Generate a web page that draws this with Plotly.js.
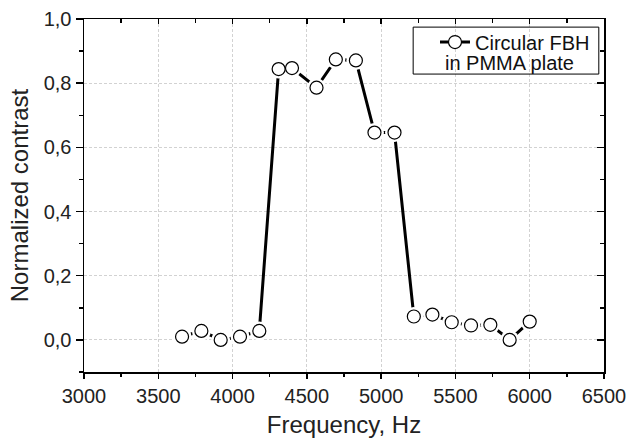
<!DOCTYPE html>
<html>
<head>
<meta charset="utf-8">
<script src="https://cdn.plot.ly/plotly-3.0.1.min.js"></script>
<style>html,body{margin:0;padding:0;background:#fff;}#chart{width:626px;height:438px;}</style>
</head>
<body>
<div id="chart"></div>
<script>
const frequencyHz = [3660, 3790, 3920, 4050, 4180, 4310, 4400, 4565, 4695, 4830, 4955, 5090, 5220, 5345, 5475, 5605, 5735, 5865, 6000];
const normalizedContrast = [0.010, 0.028, 0.000, 0.010, 0.028, 0.844, 0.847, 0.786, 0.874, 0.871, 0.646, 0.646, 0.073, 0.079, 0.055, 0.045, 0.047, 0.000, 0.057];
const seriesName = 'Circular FBH';
const seriesName2 = 'in PMMA plate';
const xTitle = 'Frequency, Hz';
const yTitle = 'Normalized contrast';

const FONT = 'Liberation Sans, Arial, sans-serif';

const traces = [
  {
    x: frequencyHz, y: normalizedContrast, type: 'scatter', mode: 'lines+markers',
    name: seriesName,
    line: {color: '#000', width: 3},
    marker: {symbol: 'circle', size: 13, color: '#fff', line: {color: '#000', width: 1.2}},
    showlegend: true, hoverinfo: 'skip'
  },
  {
    x: frequencyHz, y: normalizedContrast, type: 'scatter', mode: 'markers',
    marker: {symbol: 'circle', size: 19, color: '#fff', line: {width: 0}},
    showlegend: false, hoverinfo: 'skip'
  },
  {
    x: frequencyHz, y: normalizedContrast, type: 'scatter', mode: 'markers',
    marker: {symbol: 'circle', size: 13, color: '#fff', line: {color: '#000', width: 1.2}},
    showlegend: false, hoverinfo: 'skip'
  },
  {x: [3000], y: [0], xaxis: 'x2', yaxis: 'y2', mode: 'markers', marker: {opacity: 0}, showlegend: false, hoverinfo: 'skip'}
];

const layout = {
  width: 626, height: 438,
  margin: {l: 84, r: 22, t: 19, b: 66},
  paper_bgcolor: '#fff', plot_bgcolor: '#fff',
  separators: ',.',
  font: {family: FONT, color: '#222', size: 20},
  showlegend: true,
  legend: {
    x: 0.675, y: 0.99, xanchor: 'left', yanchor: 'top',
    bgcolor: 'rgba(0,0,0,0)', borderwidth: 0,
    font: {family: FONT, size: 20, color: '#111'}
  },
  xaxis: {
    range: [3000, 6500], dtick: 500, tick0: 3000,
    showline: true, linecolor: '#000', linewidth: 1.5,
    ticks: 'outside', ticklen: 5, tickwidth: 1.5, tickcolor: '#000',
    minor: {ticks: 'outside', ticklen: 3, tickwidth: 1.5, tickcolor: '#000', dtick: 250, showgrid: false},
    showgrid: true, gridcolor: '#d2d2d2', gridwidth: 1, griddash: '3px,2px',
    zeroline: false, ticklabeloverflow: 'allow',
    tickfont: {family: FONT, size: 20, color: '#222'},
    title: {text: xTitle, font: {family: FONT, size: 24, color: '#222'}, standoff: 10}
  },
  yaxis: {
    range: [-0.1, 1.0], dtick: 0.2, tick0: 0, tickformat: '.1f',
    showline: true, linecolor: '#000', linewidth: 1.5,
    ticks: 'outside', ticklen: 7, tickwidth: 1.5, tickcolor: '#000',
    minor: {ticks: 'outside', ticklen: 4, tickwidth: 1.5, tickcolor: '#000', dtick: 0.1, showgrid: false},
    showgrid: true, gridcolor: '#d2d2d2', gridwidth: 1, griddash: '3px,2px',
    zeroline: false,
    tickfont: {family: FONT, size: 20, color: '#222'},
    title: {text: yTitle, font: {family: FONT, size: 24, color: '#222'}, standoff: 8}
  },
  xaxis2: {
    overlaying: 'x', side: 'top', anchor: 'y', range: [3000, 6500], dtick: 500, tick0: 3000,
    showline: true, linecolor: '#000', linewidth: 1.5,
    ticks: 'inside', ticklen: 5, tickwidth: 1.5, tickcolor: '#000',
    minor: {ticks: 'inside', ticklen: 4, tickwidth: 1.5, tickcolor: '#000', dtick: 250, showgrid: false},
    showticklabels: false, showgrid: false, zeroline: false
  },
  yaxis2: {
    overlaying: 'y', side: 'right', anchor: 'x', range: [-0.1, 1.0], dtick: 0.2, tick0: 0,
    showline: true, linecolor: '#000', linewidth: 1.5,
    ticks: 'inside', ticklen: 7, tickwidth: 1.5, tickcolor: '#000',
    minor: {ticks: 'inside', ticklen: 4, tickwidth: 1.5, tickcolor: '#000', dtick: 0.1, showgrid: false},
    showticklabels: false, showgrid: false, zeroline: false
  },
  shapes: [
    {type: 'rect', xref: 'paper', yref: 'paper', x0: 0.633, x1: 0.99, y0: 0.844, y1: 0.977,
     line: {color: '#000', width: 1}, fillcolor: 'rgba(0,0,0,0)'}
  ],
  annotations: [
    {xref: 'paper', yref: 'paper', x: 0.819, y: 0.874, xanchor: 'center', yanchor: 'middle',
     text: seriesName2, showarrow: false, font: {family: FONT, size: 20, color: '#111'}}
  ]
};

Plotly.newPlot('chart', traces, layout, {displayModeBar: false, staticPlot: true});
</script>
</body>
</html>
